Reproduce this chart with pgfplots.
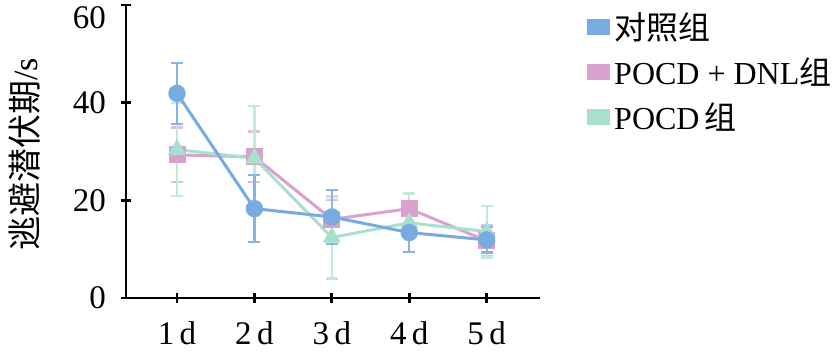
\documentclass[border=0pt]{standalone}
\usepackage{pgfplots}
\pgfplotsset{compat=1.18}
\usepackage{fontspec}
\setmainfont{Liberation Serif}
\newfontfamily\cjk{Noto Sans CJK SC}
\definecolor{cblue}{HTML}{78ABE0}
\definecolor{cpink}{HTML}{D9A1CE}
\definecolor{cteal}{HTML}{A9E0CD}
\begin{document}
\begin{tikzpicture}
\useasboundingbox (-63pt,-28pt) rectangle (353pt,149pt);
\begin{axis}[
  scale only axis, width=207pt, height=146.5pt,
  xmin=0.341, xmax=5.689, ymin=0, ymax=60,
  axis x line=bottom, axis y line=left,
  axis line style={-, line width=1.4pt, black},
  xtick={1,2,3,4,5}, xticklabels={1\,d,2\,d,3\,d,4\,d,5\,d},
  ytick={0,20,40},
  extra y ticks={60},
  extra y tick style={yticklabel style={yshift=-6.5pt}},
  tick style={line width=1.4pt, black},
  major tick length=5pt,
  tick label style={font=\fontsize{16.5}{18}\selectfont},
  /pgf/number format/assume math mode=true,
  yticklabel style={xshift=-4pt},
  xticklabel style={yshift=-6pt},
  ylabel={{\cjk 逃避潜伏期}/s},
  ylabel style={at={(axis description cs:-0.244,0.49)}, anchor=center, font=\fontsize{17}{19}\selectfont},
  legend style={at={(rel axis cs:1,1)}, anchor=north west, xshift=20.5pt, yshift=0.5pt, draw=none, fill=none,
    font=\fontsize{16}{18}\selectfont, row sep=3.5pt},
  legend cell align=left,
]
\addlegendimage{legend image code/.code={\fill[cblue] (-6.5pt,-3.75pt) rectangle (4.5pt,3.75pt);}}
\addlegendentry{{\cjk 对照组}}
\addlegendimage{legend image code/.code={\fill[cpink] (-6.5pt,-3.75pt) rectangle (4.5pt,3.75pt);}}
\addlegendentry{POCD + DNL{\cjk 组}}
\addlegendimage{legend image code/.code={\fill[cteal] (-6.5pt,-3.75pt) rectangle (4.5pt,3.75pt);}}
\addlegendentry{POCD\,{\cjk 组}}

\addplot[forget plot, color=cpink, line width=1.5pt, mark=square*, mark size=3.5pt,
  error bars/.cd, y dir=both, y explicit,
  error bar style={cpink!70, line width=1.1pt},
  error mark options={rotate=90, mark size=3pt, line width=1.1pt, cpink!70}]
  coordinates {(1,29.3) +- (0,5.6) (2,28.9) +- (0,5.2) (3,16.1) +- (0,3.9) (4,18.3) +- (0,3.1) (5,11.7) +- (0,3.2)};
\addplot[forget plot, color=cteal, line width=1.5pt, mark=triangle*, mark size=3.8pt,
  error bars/.cd, y dir=both, y explicit,
  error bar style={cteal!70, line width=1.1pt},
  error mark options={rotate=90, mark size=3pt, line width=1.1pt, cteal!70}]
  coordinates {(1,30.4) +- (0,9.5) (2,28.6) +- (0,10.8) (3,12.4) +- (0,8.4) (4,15.4) +- (0,6.0) (5,13.6) +- (0,5.3)};
\addplot[forget plot, color=cblue, line width=1.5pt, mark=*, mark size=3.6pt,
  error bars/.cd, y dir=both, y explicit,
  error bar style={cblue!90, line width=1.1pt},
  error mark options={rotate=90, mark size=3pt, line width=1.1pt, cblue!90}]
  coordinates {(1,41.9) +- (0,6.2) (2,18.3) +- (0,6.9) (3,16.6) +- (0,5.5) (4,13.4) +- (0,3.9) (5,11.9) +- (0,2.6)};
\end{axis}
\end{tikzpicture}
\end{document}
